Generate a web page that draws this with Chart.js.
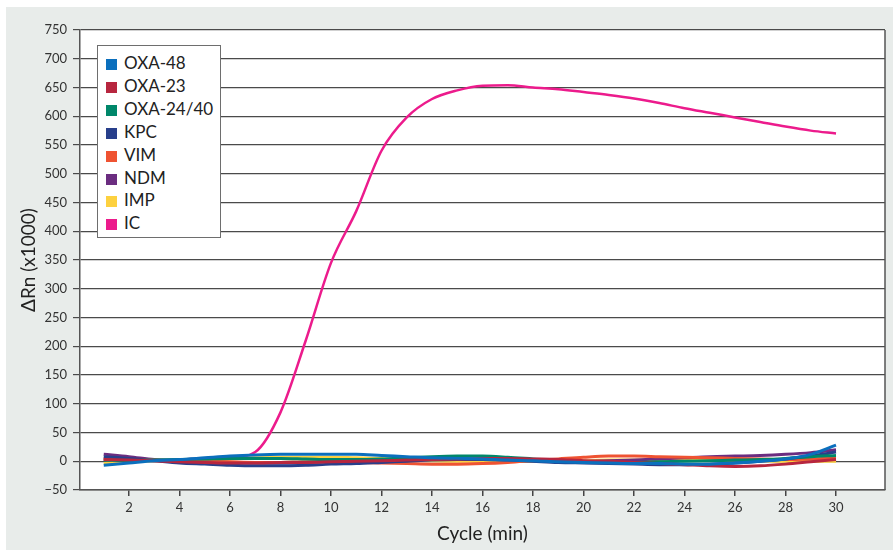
<!DOCTYPE html>
<html>
<head>
<meta charset="utf-8">
<script src="https://cdn.jsdelivr.net/npm/chart.js@4.4.1/dist/chart.umd.min.js"></script>
<style>
  html, body { margin: 0; padding: 0; background: #fff; }
  #wrap { position: relative; width: 893px; height: 550px; }
  #legend {
    position: absolute; left: 97px; top: 45px; width: 122px; height: 191px;
    background: #fff; border: 1px solid #6e6e6e;
    font-family: Lato, sans-serif; font-size: 17px; color: #222;
    box-sizing: content-box;
  }
  #legend div { position: absolute; left: 8px; height: 20px; line-height: 20px; white-space: nowrap; }
  #legend span { display: inline-block; width: 11px; height: 11px; margin-right: 7px; vertical-align: -1px; }
</style>
</head>
<body>
<div id="wrap">
  <canvas id="qpcrChart" width="893" height="550"></canvas>
  <div id="legend"></div>
</div>
<script>
const cycles = [1, 2, 3, 4, 5, 6, 7, 8, 9, 10, 11, 12, 13, 14, 15, 16, 17, 18, 19, 20, 21, 22, 23, 24, 25, 26, 27, 28, 29, 30];

const oxa48   = [-7, -3, 1, 3, 6, 9, 11, 12, 12, 12, 12, 10, 8, 6, 5, 4, 2, 1, -1, -2, -3, -4, -4, -5, -5, -3, 0, 4, 12, 28];
const oxa23   = [3, 2, 1, -1, -2, -3, -3, -2, -2, -1, 0, 1, 2, 3, 4, 5, 5, 4, 3, 1, 0, -2, -4, -6, -8, -9, -8, -5, -1, 3];
const oxa2440 = [2, 1, 2, 3, 4, 5, 5, 5, 4, 3, 3, 4, 6, 8, 9, 9, 7, 4, 1, -1, -2, -2, -1, 0, 1, 2, 3, 5, 8, 10];
const kpc     = [8, 5, 1, -3, -5, -7, -8, -8, -7, -5, -4, -2, 0, 2, 3, 3, 2, 0, -2, -3, -4, -5, -6, -6, -5, -3, 0, 4, 9, 16];
const vim     = [5, 3, 2, 1, 0, -1, -2, -2, -1, -1, -2, -3, -4, -5, -5, -4, -2, 1, 4, 7, 9, 9, 8, 7, 6, 5, 4, 3, 4, 6];
const ndm     = [12, 8, 3, 0, -2, -3, -3, -3, -2, -1, 0, 1, 2, 3, 3, 3, 2, 1, 0, 0, 1, 2, 4, 6, 8, 9, 10, 12, 15, 20];
const imp     = [-4, -1, 1, 2, 3, 4, 6, 7, 7, 7, 6, 5, 3, 1, 0, 0, 0, 0, 0, 1, 2, 2, 2, 2, 2, 2, 1, 0, 0, 0];
const ic      = [3, 2, 2, 3, 5, 6, 16, 85, 210, 345, 435, 540, 598, 630, 645, 653, 654, 650, 647, 642, 637, 631, 623, 614, 606, 598, 590, 582, 575, 570];

const seriesNames  = ['OXA-48', 'OXA-23', 'OXA-24/40', 'KPC', 'VIM', 'NDM', 'IMP', 'IC'];
const seriesColors = ['#0b6fbd', '#b7263f', '#00876a', '#283f8b', '#ef5332', '#6b2d80', '#fdd13f', '#ec1b8c'];
const seriesValues = [oxa48, oxa23, oxa2440, kpc, vim, ndm, imp, ic];

const yTicks = [-50, 0, 50, 100, 150, 200, 250, 300, 350, 400, 450, 500, 550, 600, 650, 700, 750];
const xTicks = [2, 4, 6, 8, 10, 12, 14, 16, 18, 20, 22, 24, 26, 28, 30];

const FONT = 'Lato, sans-serif';

// grey panel behind everything, white plot area, right border
const panelPlugin = {
  id: 'panel',
  beforeDraw(chart) {
    const c = chart.ctx, a = chart.chartArea;
    c.save();
    c.fillStyle = '#fff';
    c.fillRect(0, 0, chart.width, chart.height);
    c.fillStyle = '#e8ecea';
    c.fillRect(6, 7, chart.width - 6, chart.height - 7);
    c.fillStyle = '#fff';
    c.fillRect(a.left, a.top, a.right - a.left, a.bottom - a.top);
    c.restore();
  },
  afterDraw(chart) {
    const c = chart.ctx, a = chart.chartArea;
    c.save();
    c.strokeStyle = '#555';
    c.lineWidth = 1.5;
    c.beginPath();
    c.moveTo(a.right, a.top);
    c.lineTo(a.right, a.bottom);
    c.stroke();
    c.restore();
  }
};

const ctx = document.getElementById('qpcrChart').getContext('2d');
const chart = new Chart(ctx, {
  type: 'line',
  data: {
    datasets: seriesNames.map((name, i) => ({
      label: name,
      data: cycles.map((x, j) => ({ x: x, y: seriesValues[i][j] })),
      borderColor: seriesColors[i],
      backgroundColor: seriesColors[i],
      borderWidth: name === 'IC' ? 2.5 : 3,
      pointRadius: 0,
      cubicInterpolationMode: 'monotone'
    }))
  },
  options: {
    responsive: false,
    animation: false,
    layout: { padding: { top: 30, right: 8, left: 0, bottom: 0 } },
    plugins: {
      legend: { display: false },
      tooltip: { enabled: false }
    },
    scales: {
      x: {
        type: 'linear',
        min: 0.06,
        max: 31.94,
        afterFit: s => { s.height = 60; },
        afterBuildTicks: s => { s.ticks = xTicks.map(v => ({ value: v })); },
        ticks: { color: '#333', font: { family: FONT, size: 13 }, padding: 4, maxRotation: 0, autoSkip: false },
        grid: { drawOnChartArea: false, drawTicks: true, tickLength: 6, color: '#444', lineWidth: 1.5 },
        border: { color: '#555', width: 1.5 },
        title: { display: true, text: 'Cycle (min)', color: '#222', font: { family: FONT, size: 19 }, padding: { top: 0, bottom: 5 } }
      },
      y: {
        min: -50,
        max: 750,
        afterFit: s => { s.width = 80; },
        afterBuildTicks: s => { s.ticks = yTicks.map(v => ({ value: v })); },
        ticks: {
          color: '#333', font: { family: FONT, size: 13 }, padding: 6, autoSkip: false,
          callback: v => String(v).replace('-', '\u2212')
        },
        grid: { color: '#4a4a4a', lineWidth: 1.2, tickLength: 7 },
        border: { color: '#555', width: 1.5 },
        title: { display: true, text: '\u0394Rn (x1000)', color: '#222', font: { family: FONT, size: 19 }, padding: { top: 17, bottom: 0 } }
      }
    }
  },
  plugins: [panelPlugin]
});

// legend box inside the plot
const legend = document.getElementById('legend');
seriesNames.forEach((name, i) => {
  const row = document.createElement('div');
  row.style.top = (7 + i * 22.9) + 'px';
  row.innerHTML = '<span style="background:' + seriesColors[i] + '"></span>' + name;
  legend.appendChild(row);
});
</script>
</body>
</html>
